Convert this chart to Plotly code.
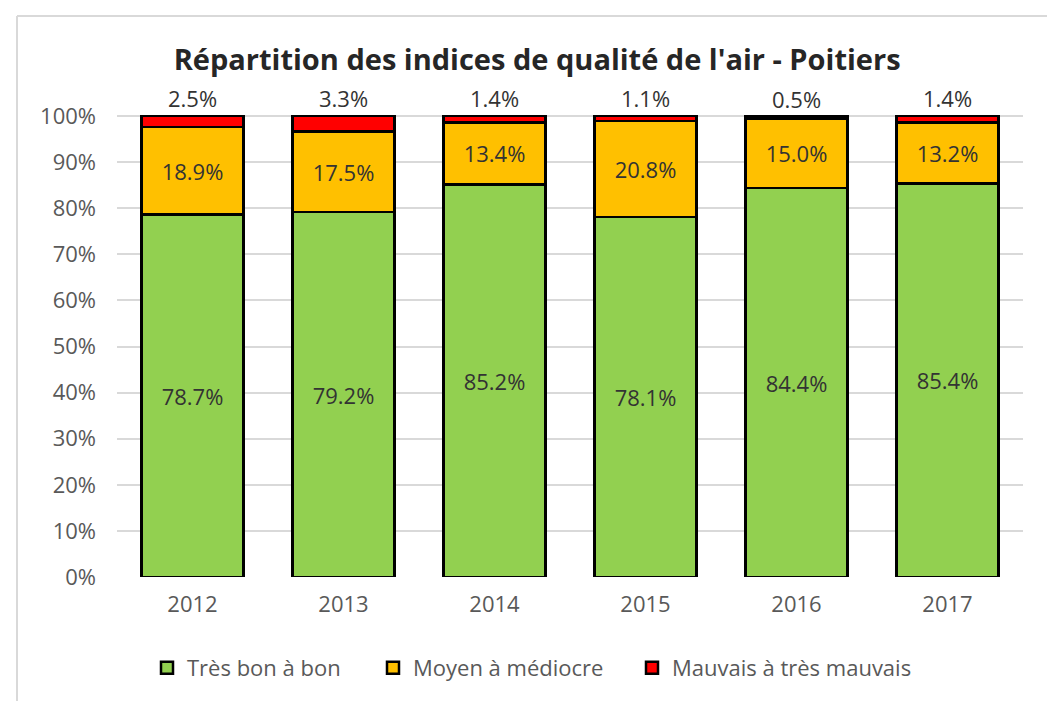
import plotly.graph_objects as go

# Air-quality index distribution per year (percent of days)
years = ["2012", "2013", "2014", "2015", "2016", "2017"]
tres_bon_a_bon = [78.7, 79.2, 85.2, 78.1, 84.4, 85.4]
moyen_a_mediocre = [18.9, 17.5, 13.4, 20.8, 15.0, 13.2]
mauvais_a_tres_mauvais = [2.5, 3.3, 1.4, 1.1, 0.5, 1.4]

FONT = "Open Sans"
LABEL_COLOR = "#333333"
AXIS_COLOR = "#595959"

series = [
    ("Très bon à bon", tres_bon_a_bon, "#92D050", "inside", "legend"),
    ("Moyen à médiocre", moyen_a_mediocre, "#FFC000", "inside", "legend2"),
    ("Mauvais à très mauvais", mauvais_a_tres_mauvais, "#FF0000", "outside", "legend3"),
]

fig = go.Figure()
for name, vals, color, pos, leg in series:
    fig.add_trace(go.Bar(
        x=years,
        y=vals,
        name=name,
        legend=leg,
        marker=dict(color=color, line=dict(color="#000000", width=2.5)),
        texttemplate="%{y:.1f}%",
        textposition=pos,
        insidetextanchor="middle",
        textangle=0,
        textfont=dict(family=FONT, size=22, color=LABEL_COLOR),
        cliponaxis=False,
        hoverinfo="skip",
    ))

# plot-area geometry in pixels (used for the outer frame lines)
W, H = 1047, 701
Y_MAX = 100.25
L, R, T, B = 117, 24, 115, 124
pw, ph = W - L - R, H - T - B
frame_x = (17 - L) / pw
frame_y = 1 + (T - 16) / ph

legend_common = dict(
    orientation="h", yanchor="middle", xanchor="left", y=-0.197,
    font=dict(family=FONT, size=22, color=AXIS_COLOR),
    bgcolor="rgba(0,0,0,0)", borderwidth=0,
)

fig.update_layout(
    width=W, height=H,
    margin=dict(l=L, r=R, t=T, b=B),
    paper_bgcolor="white",
    plot_bgcolor="white",
    barmode="stack",
    bargap=0.325,
    title=dict(
        text="<b>Répartition des indices de qualité de l'air - Poitiers</b>",
        x=0.513, xanchor="center", y=1 - 60 / H, yanchor="middle",
        font=dict(family=FONT, size=29, color="#262626"),
    ),
    xaxis=dict(
        showgrid=False, showline=False, zeroline=False,
        tickfont=dict(family=FONT, size=22, color=AXIS_COLOR),
        ticklabelstandoff=12,
    ),
    yaxis=dict(
        range=[0, Y_MAX], tickmode="linear", tick0=0, dtick=10, ticksuffix="%",
        showgrid=True, gridcolor="#D9D9D9", gridwidth=1.5,
        zeroline=False, showline=False,
        tickfont=dict(family=FONT, size=22, color=AXIS_COLOR),
        ticklabelstandoff=20,
    ),
    legend=dict(legend_common, x=(187 - 40 - L) / pw),
    legend2=dict(legend_common, x=(413 - 40 - L) / pw),
    legend3=dict(legend_common, x=(672 - 40 - L) / pw),
    shapes=[
        dict(type="line", xref="paper", yref="paper", x0=frame_x, x1=frame_x,
             y0=frame_y, y1=-0.5, line=dict(color="#D9D9D9", width=2)),
        dict(type="line", xref="paper", yref="paper", x0=frame_x, x1=1.2,
             y0=frame_y, y1=frame_y, line=dict(color="#D9D9D9", width=2)),
    ],
    showlegend=True,
)

fig.write_html("out.html")
